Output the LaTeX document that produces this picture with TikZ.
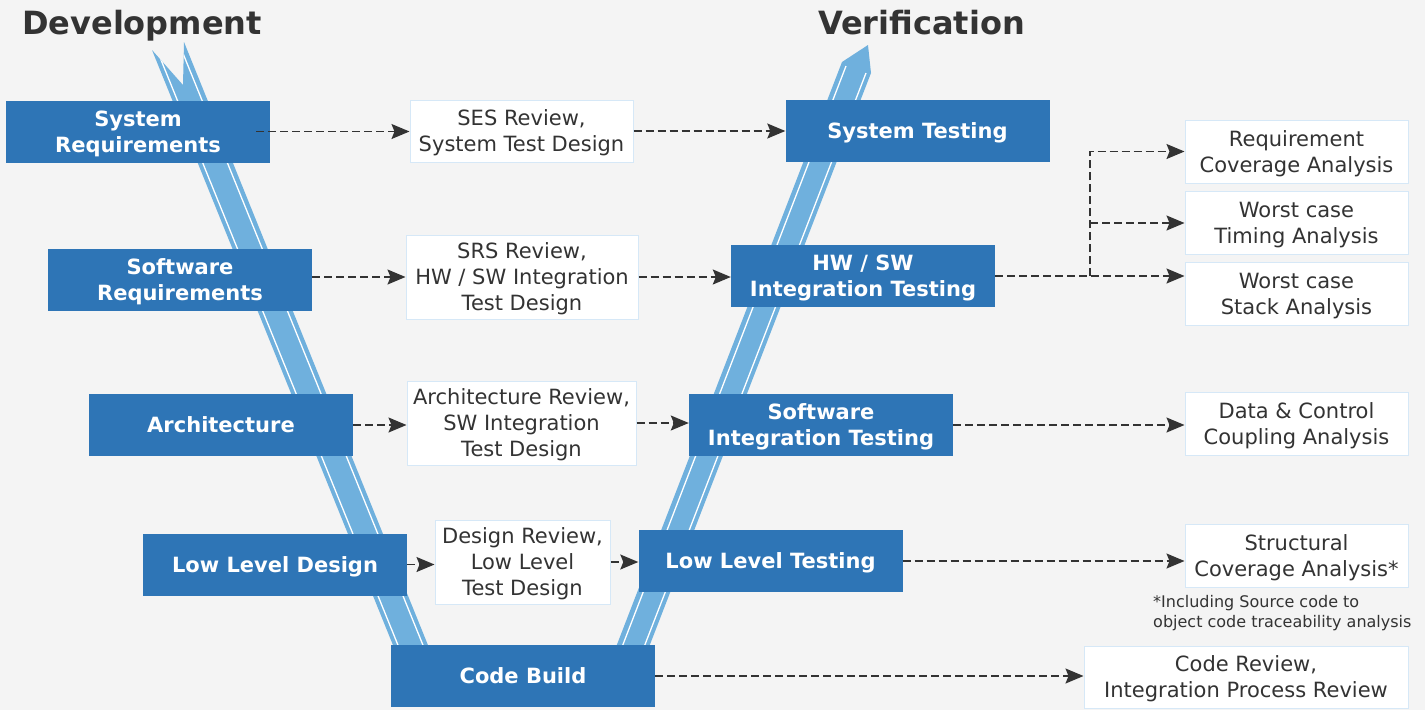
\documentclass[tikz,border=0pt]{standalone}
\usepackage{fontspec}
\setmainfont{DejaVu Sans}
\definecolor{BoxBlue}{RGB}{46,117,182}
\definecolor{BandBlue}{RGB}{111,176,221}
\definecolor{PaleEdge}{RGB}{214,232,247}
\definecolor{PageGray}{RGB}{244,244,244}
\definecolor{InkGray}{RGB}{51,51,51}
\usetikzlibrary{arrows.meta, positioning, calc}

\begin{document}
\begin{tikzpicture}[x=1pt, y=-1pt,
        stage/.style={rectangle, fill=BoxBlue, text=white, minimum width=264pt, minimum height=62pt, inner sep=0pt, text depth=0pt, align=center, font=\fontsize{21}{26}\selectfont\bfseries},
        review/.style={rectangle, fill=white, draw=PaleEdge, line width=1pt, text=InkGray, inner sep=0pt, text depth=0pt, align=center, font=\fontsize{21}{26}\selectfont},
        arrow/.style={-{Stealth[length=18pt, width=15pt, inset=3pt]}, InkGray, line width=1.4pt, dash pattern=on 8pt off 4pt},
        title/.style={anchor=base west, inner sep=0pt, text=InkGray, font=\fontsize{32}{38}\selectfont\bfseries}
    ]
        \fill[PageGray] (0,0) rectangle (1425,710);
        \useasboundingbox (0,0) rectangle (1425,710);

        % V band, development side
        \begin{scope}
            \fill[BandBlue] (152,50) -- (183,85) -- (184,42) -- (434,660) -- (399,660) -- cycle;
            \clip (152,50) -- (183,85) -- (184,42) -- (434,660) -- (399,660) -- cycle;
            \draw[white, line width=1.3pt] (157,50) -- (404,660);
            \draw[white, line width=1.3pt] (180,46) -- (429,660);
        \end{scope}

        % V band, verification side
        \fill[BandBlue] (611,660) -- (842,62) -- (868,45) -- (871,73) -- (644,660) -- cycle;
        \draw[white, line width=1.3pt] (617,660) -- (846,66);
        \draw[white, line width=1.3pt] (639,660) -- (866,73);

        % Titles
        \node[title] (devtitle) at (22,34) {Development};
        \node[title] (vertitle) at (818,34) {Verification};

        % Development stages
        \node[stage] (sysreq) at (138,131.5) {System\\Requirements};
        \node[stage] (swreq) at (180,280) {Software\\Requirements};
        \node[stage] (arch) at (221,425) {Architecture};
        \node[stage] (lld) at (275,564.5) {Low Level Design};
        \node[stage] (build) at (523,676) {Code Build};

        % Verification stages
        \node[stage] (systest) at (917.5,131) {System Testing};
        \node[stage] (hwsw) at (863,276) {HW / SW\\Integration Testing};
        \node[stage] (swit) at (821,425) {Software\\Integration Testing};
        \node[stage] (llt) at (770.5,561) {Low Level Testing};

        % Reviews between the two sides
        \node[review, minimum width=223pt, minimum height=62pt] (ses) at (521.5,131) {SES Review,\\System Test Design};
        \node[review, minimum width=232pt, minimum height=84pt] (srs) at (522,277) {SRS Review,\\HW / SW Integration\\Test Design};
        \node[review, minimum width=229pt, minimum height=84pt] (archrev) at (521.5,423) {Architecture Review,\\SW Integration\\Test Design};
        \node[review, minimum width=175pt, minimum height=84pt] (desrev) at (522.5,562) {Design Review,\\Low Level\\Test Design};

        % Analyses
        \node[review, minimum width=223pt, minimum height=63pt] (reqcov) at (1296.5,151.5) {Requirement\\Coverage Analysis};
        \node[review, minimum width=223pt, minimum height=63pt] (timing) at (1296.5,223) {Worst case\\Timing Analysis};
        \node[review, minimum width=223pt, minimum height=63pt] (stack) at (1296.5,294) {Worst case\\Stack Analysis};
        \node[review, minimum width=223pt, minimum height=63pt] (coupling) at (1296.5,424) {Data \& Control\\Coupling Analysis};
        \node[review, minimum width=223pt, minimum height=63pt] (structural) at (1296.5,556) {Structural\\Coverage Analysis*};
        \node[review, minimum width=324pt, minimum height=62pt] (codereview) at (1246,677) {Code Review,\\Integration Process Review};
        \node[anchor=north west, align=left, inner sep=0pt, text=InkGray, font=\fontsize{16}{20}\selectfont] (note) at (1153,595) {*Including Source code to\\object code traceability analysis};

        % Left to middle to right
        \draw[arrow] ([xshift=-14pt]sysreq.east) -- (sysreq.east -| ses.west);
        \draw[arrow] (ses.east) -- (ses.east -| systest.west);
        \draw[arrow] (srs.west -| swreq.east) -- (srs.west);
        \draw[arrow] (srs.east) -- (srs.east -| hwsw.west);
        \draw[arrow] (arch.east) -- (arch.east -| archrev.west);
        \draw[arrow] (archrev.east) -- (archrev.east -| swit.west);
        \draw[arrow] (lld.east) -- (lld.east -| desrev.west);
        \draw[arrow] (desrev.east) -- (desrev.east -| llt.west);

        % Verification to analyses
        \coordinate (fork) at (1090,276);
        \draw[arrow] (hwsw.east) -- (hwsw.east -| stack.west);
        \draw[arrow] (fork) |- (reqcov.west);
        \draw[arrow] (fork |- timing.west) -- (timing.west);
        \draw[arrow] (swit.east) -- (swit.east -| coupling.west);
        \draw[arrow] (llt.east) -- (llt.east -| structural.west);
        \draw[arrow] (build.east) -- (build.east -| codereview.west);
    \end{tikzpicture}
\end{document}
